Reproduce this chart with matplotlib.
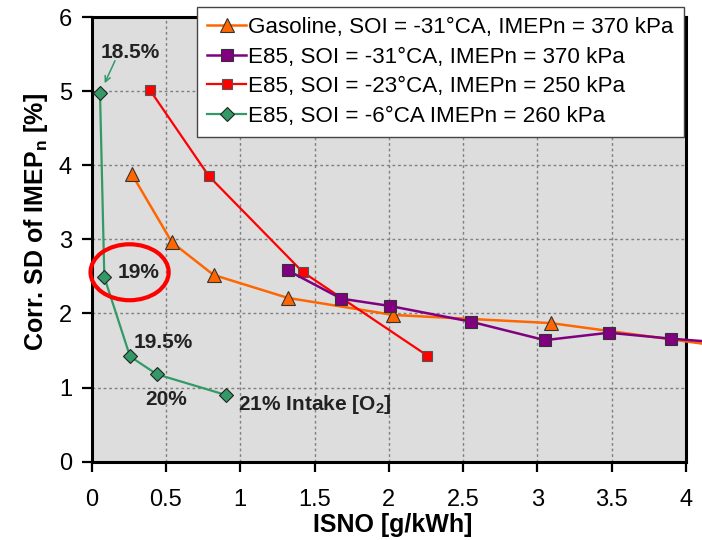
import matplotlib
matplotlib.use("Agg")
import matplotlib.pyplot as plt
from matplotlib.patches import Ellipse

plt.rcParams['font.family'] = ['Liberation Sans', 'DejaVu Sans']
plt.rcParams['mathtext.fontset'] = 'custom'
plt.rcParams['mathtext.rm'] = 'Liberation Sans'
plt.rcParams['mathtext.bf'] = 'Liberation Sans:bold'
plt.rcParams['mathtext.it'] = 'Liberation Sans:italic'

# data
gas_x = [0.27, 0.54, 0.82, 1.32, 2.03, 3.09, 4.6]
gas_y = [3.88, 2.96, 2.52, 2.21, 1.98, 1.87, 1.46]

e85_31_x = [1.32, 1.68, 2.01, 2.55, 3.05, 3.48, 3.90, 4.6]
e85_31_y = [2.58, 2.20, 2.10, 1.89, 1.64, 1.74, 1.66, 1.55]

e85_23_x = [0.39, 0.79, 1.42, 2.26]
e85_23_y = [5.02, 3.85, 2.56, 1.43]

e85_6_x = [0.056, 0.085, 0.258, 0.438, 0.904]
e85_6_y = [4.97, 2.49, 1.42, 1.18, 0.90]
o2_labels = ['18.5%', '19%', '19.5%', '20%', '21% Intake [O$\\mathbf{_2}$]']

labels = ['Gasoline, SOI = -31°CA, IMEPn = 370 kPa',
          'E85, SOI = -31°CA, IMEPn = 370 kPa',
          'E85, SOI = -23°CA, IMEPn = 250 kPa',
          'E85, SOI = -6°CA IMEPn = 260 kPa']

orange = '#FF6600'
purple = '#800080'
red = '#FF0000'
green = '#339966'

fig = plt.figure(figsize=(7.02, 5.40), dpi=100)
ax = fig.add_axes([91.7/702, 1 - 461.7/540, (686 - 91.7)/702, (461.7 - 17)/540])
ax.set_facecolor('#DDDDDD')

ax.plot(gas_x, gas_y, '-^', color=orange, lw=1.8, ms=10.5, mec='#333333', mew=0.8,
        label=labels[0], clip_on=False, zorder=4)
ax.plot(e85_31_x, e85_31_y, '-s', color=purple, lw=1.8, ms=8.5, mec='#333333', mew=0.8,
        label=labels[1], clip_on=False, zorder=5)
ax.plot(e85_23_x, e85_23_y, '-s', color=red, lw=1.6, ms=7, mec='#555555', mew=0.8,
        label=labels[2], zorder=4)
ax.plot(e85_6_x, e85_6_y, '-D', color=green, lw=1.6, ms=7.5, mec='#222222', mew=0.8,
        label=labels[3], zorder=4)

ax.set_xlim(0, 4)
ax.set_ylim(0, 6)
ax.set_xticks([0, 0.5, 1, 1.5, 2, 2.5, 3, 3.5, 4])
ax.set_xticklabels(['0', '0.5', '1', '1.5', '2', '2.5', '3', '3.5', '4'])
ax.set_yticks(range(7))
ax.grid(True, color='#808080', linestyle=(0, (2, 2)), lw=1)
ax.set_axisbelow(True)
for s in ax.spines.values():
    s.set_linewidth(2.2)
    s.set_color('black')
ax.tick_params(direction='out', length=7.2, width=1.6, labelsize=17, color='black')
ax.tick_params(axis='x', pad=12.5)
ax.tick_params(axis='y', pad=7)

# O2 concentration labels next to the green points
offsets = [(21.6, 29.5), (24.5, 3), (24, 10), (6.5, -18.5), (8.4, -7.2)]
for i, (lab, off) in enumerate(zip(o2_labels, offsets)):
    ha = 'left' if i == 4 else 'center'
    ax.annotate(lab, (e85_6_x[i], e85_6_y[i]), xytext=off, textcoords='offset points',
                ha=ha, va='center', fontsize=15, fontweight='bold', color='#222222')
ax.annotate('', (e85_6_x[0], e85_6_y[0]), xytext=(10.8, 23.5), textcoords='offset points',
            arrowprops=dict(arrowstyle='->', color=green, lw=1.1, shrinkA=0, shrinkB=8))

# red circle around the 19% point
ax.add_patch(Ellipse((0.255, 2.556), 0.526, 0.755, fill=False, edgecolor='red',
                     lw=3, clip_on=False, zorder=6))

ax.legend(loc='upper right', bbox_to_anchor=(684/702, 1 - 7/540),
          bbox_transform=fig.transFigure, borderaxespad=0, fontsize=16.1,
          frameon=True, fancybox=False, edgecolor='#444444', framealpha=1,
          handlelength=1.75, handletextpad=0.1, labelspacing=0.38, borderpad=0.45)

ax.set_xlabel('ISNO [g/kWh]', fontsize=18, fontweight='bold')
ax.xaxis.set_label_coords(0.506, -0.159)
ax.xaxis.label.set_va('baseline')
fig.text(36/702, 1 - 222/540, 'Corr. SD of IMEP$_\\mathbf{n}$ [%]', rotation=90,
         ha='center', va='center', fontsize=18, fontweight='bold')

fig.savefig('out.png', dpi=100)
